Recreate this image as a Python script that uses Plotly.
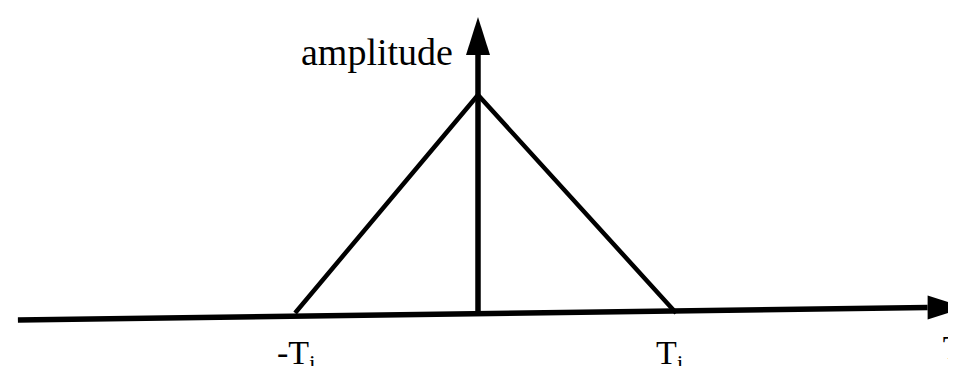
import plotly.graph_objects as go

# ---- data (units: T_i ~ 1, peak amplitude = 1) ----
tau = [-0.96, 0.0, 1.04]          # -T_i, 0, T_i (lag positions)
amplitude = [0.0, 1.0, 0.0]       # triangular autocorrelation
axis_x = [-2.415, 2.36]           # horizontal axis line extent (to arrow base)
axis_y = [-0.032, 0.025]          # slight scan tilt of the horizontal axis
vaxis_y = [0.0, 1.183]            # vertical axis from baseline to arrow base
tick_pos = [-0.955, 1.01]
tick_text = ["-T<sub>i</sub>", "T<sub>i</sub>"]
ylabel = "amplitude"
xlabel = "T"

# scale helpers (pixels per unit)
W, H = 956, 366
xr = [-2.467, 2.551]
yr = [-0.280, 1.399]
pxx = W / (xr[1] - xr[0])
pxy = H / (yr[1] - yr[0])

fig = go.Figure()
fig.add_trace(go.Scatter(x=axis_x, y=axis_y, mode="lines",
                         line=dict(color="black", width=5.5), hoverinfo="skip"))
fig.add_trace(go.Scatter(x=[0, 0], y=vaxis_y, mode="lines",
                         line=dict(color="black", width=5.5), hoverinfo="skip"))
fig.add_trace(go.Scatter(x=tau, y=amplitude, mode="lines",
                         line=dict(color="black", width=4.5), hoverinfo="skip"))

# arrowheads (built from axis ends)
hl, hw = 38, 12   # head length / half-width in px
vx, vy = 0, vaxis_y[1]
fig.add_shape(type="path", xref="x", yref="y", fillcolor="black", line=dict(width=0),
              path=f"M{vx - hw/pxx},{vy} L{vx + hw/pxx},{vy} L{vx},{vy + hl/pxy} Z")
hx, hy = axis_x[1], axis_y[1]
fig.add_shape(type="path", xref="x", yref="y", fillcolor="black", line=dict(width=0),
              path=f"M{hx},{hy - hw/pxy} L{hx},{hy + hw/pxy} L{hx + hl/pxx},{hy} Z")

font = dict(family="Liberation Serif, Times New Roman, serif", color="black")
fig.add_annotation(x=-0.12, y=1.197, text=ylabel, showarrow=False,
                   xanchor="right", yanchor="middle", font=dict(size=38, **font))
for p, t in zip(tick_pos, tick_text):
    fig.add_annotation(x=p, y=-0.195, text=t, showarrow=False,
                       xanchor="center", yanchor="middle", font=dict(size=34, **font))
# axis name at the right edge (partly cut off, as in the original)
fig.add_trace(go.Scatter(x=[2.44], y=[-0.17], mode="text", text=[xlabel],
                         textposition="middle right", cliponaxis=False,
                         textfont=dict(size=34, **font), hoverinfo="skip"))

fig.update_layout(width=W, height=H, margin=dict(l=0, r=0, t=0, b=0),
                  plot_bgcolor="white", paper_bgcolor="white", showlegend=False,
                  xaxis=dict(range=xr, visible=False, fixedrange=True),
                  yaxis=dict(range=yr, visible=False, fixedrange=True))
fig.write_html("out.html")
